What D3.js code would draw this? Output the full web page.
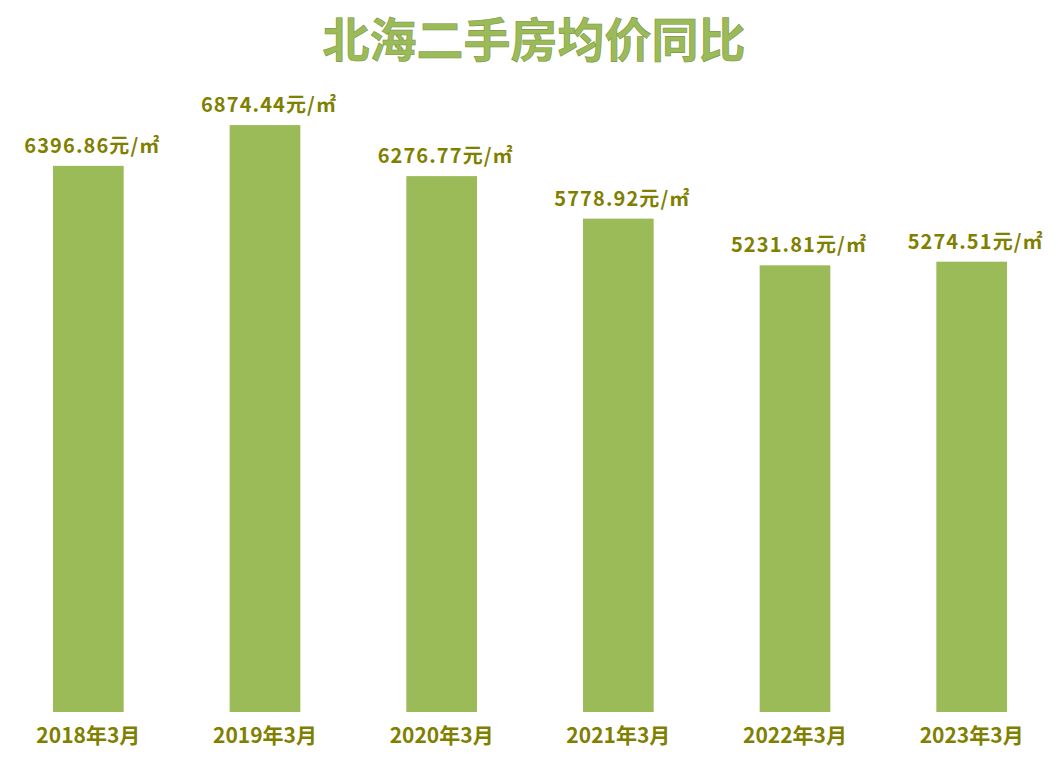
<!DOCTYPE html>
<html>
<head>
<meta charset="utf-8">
<script src="https://cdn.jsdelivr.net/npm/d3@7"></script>
<style>
  body { margin: 0; background: #ffffff; }
  svg { display: block; }
</style>
</head>
<body>
<div id="chart"></div>
<script>
// data
const categories = ["2018年3月", "2019年3月", "2020年3月", "2021年3月", "2022年3月", "2023年3月"];
const prices = [6396.86, 6874.44, 6276.77, 5778.92, 5231.81, 5274.51];
const unit = "元/㎡";
const title = "北海二手房均价同比";

const width = 1058, height = 762;
const barColor = "#9bbb59", labelColor = "#7f7f00";
const fontFam = "'Noto Sans CJK SC', 'Noto Sans', sans-serif";

let svg = d3.select("#chart").append("svg")
    .attr("width", width)
    .attr("height", height);

let x = d3.scaleBand()
    .domain(categories)
    .range([0, 1060])
    .paddingInner(0.6)
    .paddingOuter(0.3);

let y = d3.scaleLinear()
    .domain([0, 8000])
    .range([712, 29]);

// title
svg.append("text")
    .attr("x", 534)
    .attr("y", 57)
    .attr("text-anchor", "middle")
    .style("font-family", fontFam)
    .style("font-size", "47px")
    .style("font-weight", "bold")
    .style("fill", barColor)
    .style("stroke", "#7a9440")
    .style("stroke-width", 0.6)
    .text(title);

let data = categories.map((c, i) => ({cat: c, value: prices[i]}));

svg.selectAll("rect.bar")
    .data(data)
    .enter().append("rect")
    .attr("class", "bar")
    .attr("x", d => x(d.cat))
    .attr("y", d => y(d.value))
    .attr("width", x.bandwidth())
    .attr("height", d => y(0) - y(d.value))
    .style("fill", barColor);

// value labels
svg.selectAll("text.val")
    .data(data)
    .enter().append("text")
    .attr("class", "val")
    .attr("x", d => x(d.cat) + x.bandwidth() / 2 + 4)
    .attr("y", d => y(d.value) - 13)
    .attr("text-anchor", "middle")
    .style("font-family", fontFam)
    .style("font-size", "20px")
    .style("font-weight", "bold")
    .style("letter-spacing", "1.1px")
    .style("fill", labelColor)
    .text(d => d.value.toFixed(2) + unit);

// category axis (no line, no ticks)
let xAxis = d3.axisBottom(x).tickSize(0).tickPadding(16);
let gx = svg.append("g")
    .attr("transform", "translate(0,712)")
    .call(xAxis);
gx.select(".domain").remove();
gx.selectAll("text")
    .style("font-family", fontFam)
    .style("font-size", "21px")
    .style("font-weight", "bold")
    .style("fill", labelColor);
</script>
</body>
</html>
